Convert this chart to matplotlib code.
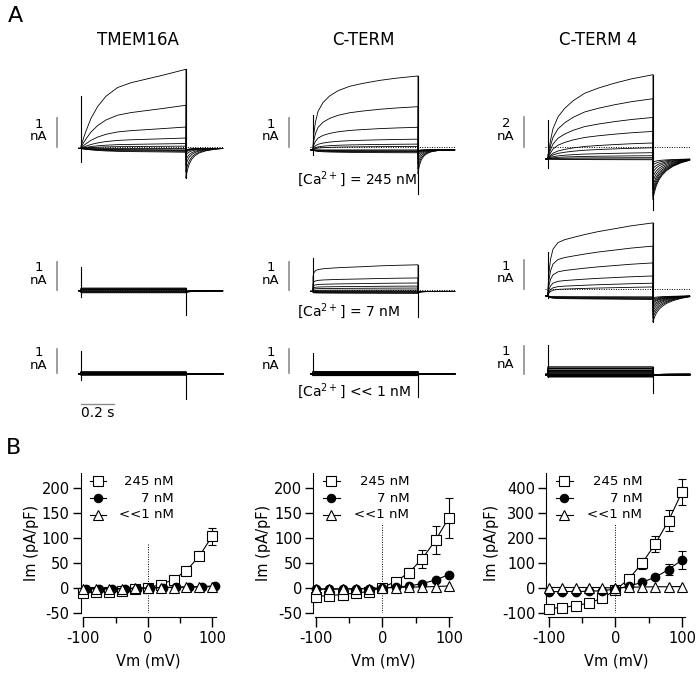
import numpy as np
import matplotlib.pyplot as plt

W, H = 700, 675
plt.rcParams['font.family'] = ['DejaVu Sans']
plt.rcParams['mathtext.default'] = 'regular'
plt.rcParams['axes.unicode_minus'] = False

# ---------------- panel A: current traces ----------------
VSTEP = [-100, -80, -60, -40, -20, 0, 20, 40, 60, 80, 100]   # mV, one trace each
PULSE = 0.63                                                 # s
T_ON = [0, 0.005, 0.015, 0.03, 0.06, 0.1, 0.15, 0.22, 0.3, 0.4, 0.5, 0.63]
T_TAIL = [0, 0.004, 0.01, 0.02, 0.035, 0.055, 0.08, 0.12, 0.17, 0.22]
# normalised tail decay
TAIL_TMEM = [1.0, 0.85, 0.7, 0.52, 0.36, 0.24, 0.15, 0.08, 0.03, 0.0]
TAIL_CT = [1.0, 0.8, 0.62, 0.42, 0.26, 0.15, 0.08, 0.03, 0.01, 0.0]
TAIL_CT4 = [1.0, 0.9, 0.8, 0.66, 0.52, 0.4, 0.29, 0.18, 0.09, 0.03]

SHAPE_TMEM = [0.03, 0.06, 0.13, 0.22, 0.38, 0.53, 0.66, 0.77, 0.83, 0.88, 0.93, 1.0]
SHAPE_CT_HI = [0.05, 0.22, 0.38, 0.52, 0.64, 0.73, 0.80, 0.86, 0.90, 0.94, 0.97, 1.0]
SHAPE_CT4_HI = [0.05, 0.1, 0.22, 0.36, 0.5, 0.6, 0.69, 0.78, 0.84, 0.9, 0.95, 1.0]
SHAPE_CT_MID = [0.55, 0.7, 0.78, 0.82, 0.85, 0.87, 0.89, 0.91, 0.93, 0.96, 0.98, 1.0]
SHAPE_CT4_MID = [0.1, 0.3, 0.5, 0.64, 0.73, 0.77, 0.8, 0.84, 0.88, 0.92, 0.96, 1.0]
SHAPE_FLAT = [1.0, 1.0, 1.0, 1.0, 1.0, 1.0, 1.0, 1.0, 1.0, 1.0, 1.0, 1.0]

# end-of-pulse current (nA) per step, tail peak (nA)
TMEM_245_END = [-0.18, -0.15, -0.12, -0.1, -0.05, 0.03, 0.12, 0.31, 0.69, 1.44, 2.68]
TMEM_245_TAIL = [-0.1, -0.1, -0.1, -0.12, -0.14, -0.18, -0.28, -0.45, -0.62, -0.86, -1.07]
CT_245_END = [-0.2, -0.17, -0.15, -0.13, -0.1, 0.02, 0.1, 0.27, 0.68, 1.39, 2.45]
CT_245_TAIL = [-0.12, -0.12, -0.13, -0.15, -0.18, -0.22, -0.3, -0.42, -0.58, -0.75, -0.92]
CT4_245_END = [-0.85, -0.8, -0.71, -0.58, -0.38, -0.05, 0.27, 1.04, 1.97, 3.22, 4.82]
CT4_245_TAIL = [-1.0, -1.2, -1.45, -1.7, -2.0, -2.3, -2.6, -2.85, -3.1, -3.3, -3.5]

TMEM_7_END = [-0.1, -0.08, -0.07, -0.05, -0.03, 0.0, 0.01, 0.02, 0.03, 0.05, 0.07]
TMEM_7_TAIL = [-0.05, -0.05, -0.05, -0.05, -0.05, -0.05, -0.06, -0.06, -0.07, -0.08, -0.1]
CT_7_END = [-0.12, -0.1, -0.08, -0.06, -0.04, 0.0, 0.07, 0.14, 0.25, 0.43, 0.9]
CT_7_TAIL = [-0.06, -0.06, -0.06, -0.06, -0.06, -0.06, -0.07, -0.07, -0.08, -0.09, -0.1]
CT4_7_END = [-0.36, -0.34, -0.32, -0.3, -0.27, 0.07, 0.2, 0.45, 0.9, 1.48, 2.28]
CT4_7_TAIL = [-0.3, -0.35, -0.4, -0.45, -0.5, -0.58, -0.66, -0.76, -0.88, -1.0, -1.14]

TMEM_1_END = [-0.08, -0.07, -0.06, -0.05, -0.04, -0.02, 0.0, 0.01, 0.02, 0.03, 0.04]
TMEM_1_TAIL = [-0.04, -0.04, -0.04, -0.04, -0.04, -0.04, -0.04, -0.04, -0.04, -0.04, -0.04]
CT_1_END = [-0.1, -0.09, -0.08, -0.07, -0.05, -0.03, 0.0, 0.02, 0.03, 0.04, 0.05]
CT_1_TAIL = [-0.05, -0.05, -0.05, -0.05, -0.05, -0.05, -0.05, -0.05, -0.05, -0.05, -0.05]
CT4_1_END = [-0.1, -0.08, -0.06, -0.04, -0.02, 0.0, 0.04, 0.08, 0.13, 0.19, 0.25]
CT4_1_TAIL = [-0.03, -0.03, -0.03, -0.03, -0.03, -0.03, -0.03, -0.03, -0.03, -0.03, -0.03]

# rows: 245 nM, 7 nM, <<1 nM ; columns: TMEM16A, C-TERM, C-TERM 4
HOLD = [[-0.05, -0.1, -0.8], [-0.03, -0.05, -0.24], [-0.03, -0.03, -0.02]]
SPIKE_ON = [[(1.76, -0.52), (1.1, -0.28), (1.8, -1.4)],
            [(0.82, -0.25), (1.14, -0.07), (1.28, -0.3)],
            [(0.92, -0.3), (0.83, -0.1), (1.04, -0.1)]]
SPIKE_OFF = [[-1.07, -1.62, -4.2], [-0.9, -0.96, -1.14], [-1.1, -1.0, -0.68]]
BAR_NA = [[1, 1, 2], [1, 1, 1], [1, 1, 1]]
TITLES = ['TMEM16A', 'C-TERM', 'C-TERM 4']
CA_LABELS = ['[Ca$^{2+}$] = 245 nM', '[Ca$^{2+}$] = 7 nM', '[Ca$^{2+}$] << 1 nM']

ENDS = [[TMEM_245_END, CT_245_END, CT4_245_END],
        [TMEM_7_END, CT_7_END, CT4_7_END],
        [TMEM_1_END, CT_1_END, CT4_1_END]]
TAILS = [[TMEM_245_TAIL, CT_245_TAIL, CT4_245_TAIL],
         [TMEM_7_TAIL, CT_7_TAIL, CT4_7_TAIL],
         [TMEM_1_TAIL, CT_1_TAIL, CT4_1_TAIL]]
SHAPES = [[SHAPE_TMEM, SHAPE_CT_HI, SHAPE_CT4_HI],
          [SHAPE_FLAT, SHAPE_CT_MID, SHAPE_CT4_MID],
          [SHAPE_FLAT, SHAPE_FLAT, SHAPE_FLAT]]
TAIL_SHAPES = [TAIL_TMEM, TAIL_CT, TAIL_CT4]

# ---------------- panel B: I-V curves ----------------
VM = [-100, -80, -60, -40, -20, 0, 20, 40, 60, 80, 100]
TMEM_IV_245 = [-9, -8, -7, -5, -2, 0, 7, 17, 35, 64, 104]
TMEM_IV_245_ERR = [0, 0, 0, 0, 0, 0, 0, 2, 3, 8, 17]
TMEM_IV_7 = [-2, -2, -2, -2, -1, 0, 1, 2, 2, 3, 4]
TMEM_IV_7_ERR = [0, 0, 0, 0, 0, 0, 0, 0, 0, 0, 0]
TMEM_IV_1 = [-1, -1, -1, -1, 0, 0, 1, 1, 2, 2, 3]
CT_IV_245 = [-17, -15, -13, -10, -7, 1, 13, 31, 59, 96, 141]
CT_IV_245_ERR = [0, 0, 0, 0, 0, 0, 0, 10, 18, 28, 40]
CT_IV_7 = [-2, -2, -2, -2, -1, 0, 2, 4, 9, 16, 27]
CT_IV_7_ERR = [0, 0, 0, 0, 0, 0, 0, 0, 0, 2, 3]
CT_IV_1 = [-2, -2, -2, -1, -1, 0, 1, 2, 2, 3, 4]
CT4_IV_245 = [-82, -78, -71, -60, -41, -8, 36, 99, 177, 270, 384]
CT4_IV_245_ERR = [0, 0, 0, 0, 0, 0, 0, 22, 33, 41, 53]
CT4_IV_7 = [-15, -14, -14, -13, -11, -4, 7, 23, 43, 74, 112]
CT4_IV_7_ERR = [0, 0, 0, 0, 0, 0, 0, 0, 8, 23, 37]
CT4_IV_1 = [2, 2, 2, 2, 2, 0, 3, 4, 5, 5, 6]
IV_LABELS = ['245 nM', '7 nM', '<<1 nM']

fig = plt.figure(figsize=(W / 100, H / 100), dpi=100)


def px_axes(left, top, width, height):
    return fig.add_axes([left / W, 1 - (top + height) / H, width / W, height / H])


def px_text(x, y, s, **kw):
    fig.text(x / W, 1 - y / H, s, **kw)


# layout of the trace grid (pixels)
PX_PER_S = 105 / PULSE
COL_X0 = [81, 313, 548]
ROW_ZERO = [[147, 147, 147], [290, 290, 289], [373, 373, 374]]
ROW_PPN = [[29, 29, 15], [28, 28, 29], [24, 24, 28]]
ROW_LW = [0.6, 0.6, 1.0]
XLO, XHI = -0.32, 0.9
ABOVE, BELOW = 95, 65

t_tail = PULSE + np.array(T_TAIL)
for r in range(3):
    for c in range(3):
        z, p = ROW_ZERO[r][c], ROW_PPN[r][c]
        ax = px_axes(COL_X0[c] + XLO * PX_PER_S, z - ABOVE,
                     (XHI - XLO) * PX_PER_S, ABOVE + BELOW)
        ax.set_xlim(XLO, XHI)
        ax.set_ylim(-BELOW / p, ABOVE / p)
        ax.axis('off')
        hold = HOLD[r][c]
        shape = np.array(SHAPES[r][c])
        frac = np.array(TAIL_SHAPES[c])
        ends = ENDS[r][c]
        ax.plot([-0.02, t_tail[-1]], [0, 0], ls=(0, (1, 1.5)), color='black', lw=0.7)
        for e, tl in zip(ends, TAILS[r][c]):
            t = np.concatenate([[-0.012, 0], T_ON, t_tail])
            y = np.concatenate([[hold, hold], hold + (e - hold) * shape,
                                hold + (tl - hold) * frac])
            ax.plot(t, y, color='black', lw=ROW_LW[r], clip_on=False)
        top, bot = SPIKE_ON[r][c]
        ax.plot([0, 0], [bot, top], color='black', lw=0.8, clip_on=False)
        ax.plot([PULSE, PULSE], [SPIKE_OFF[r][c], max(ends)], color='black', lw=0.8,
                clip_on=False)
        # vertical scale bar
        bar = BAR_NA[r][c]
        bx = -24 / PX_PER_S
        ax.plot([bx, bx], [0, bar], color='#8c8c8c', lw=1.2, clip_on=False)
        ax.text(-42 / PX_PER_S, bar / 2 + 2 / p, f'{bar}\nnA', ha='center', va='center',
                fontsize=9.5, linespacing=0.95)
        if r == 2 and c == 0:
            yb = -31 / p
            ax.plot([0, 0.2], [yb, yb], color='#8c8c8c', lw=1.0, clip_on=False)
            ax.text(0.1, yb - 2 / p, '0.2 s', ha='center', va='top', fontsize=10)

for c, title in enumerate(TITLES):
    px_text([138, 363, 598][c], 40, title, ha='center', va='center', fontsize=12)
for r, lab in enumerate(CA_LABELS):
    px_text(297, [179, 311, 391][r], lab, ha='left', va='center', fontsize=10)

px_text(15, 16, 'A', ha='center', va='center', fontsize=16)
px_text(14, 448, 'B', ha='center', va='center', fontsize=16)

# ---------------- I-V axes ----------------
IV_SETS = [
    (TMEM_IV_245, TMEM_IV_245_ERR, TMEM_IV_7, TMEM_IV_7_ERR, TMEM_IV_1),
    (CT_IV_245, CT_IV_245_ERR, CT_IV_7, CT_IV_7_ERR, CT_IV_1),
    (CT4_IV_245, CT4_IV_245_ERR, CT4_IV_7, CT4_IV_7_ERR, CT4_IV_1),
]
IV_YLIM = [(-50, 230), (-50, 230), (-100, 460)]
IV_YTICKS = [[-50, 0, 50, 100, 150, 200], [-50, 0, 50, 100, 150, 200],
             [-100, 0, 100, 200, 300, 400]]
ZERO_LINE_TOP = [90, 130, 255]
SHIFT_7 = [4, 0, 0]      # 7 nM points nudged right in the first panel
B_LEFT = [80.7, 313.3, 546.3]
B_WIDTH = [134.8, 139, 139]

vm = np.array(VM)
for i, (y245, e245, y7, e7, y1) in enumerate(IV_SETS):
    ax = px_axes(B_LEFT[i], 473, B_WIDTH[i], 140)
    ax.set_xlim(-104, 105)
    ax.set_ylim(*IV_YLIM[i])
    ax.plot([0, 0], [IV_YLIM[i][0], ZERO_LINE_TOP[i]], ls=(0, (1, 1.5)), color='black',
            lw=0.7)
    for art in (
        ax.errorbar(vm, y245, yerr=e245, color='black', lw=0.8, marker='s', ms=6.5,
                    mfc='white', mec='black', mew=0.8, capsize=3, elinewidth=0.8,
                    capthick=0.8, zorder=3),
        ax.errorbar(vm + SHIFT_7[i], y7, yerr=e7, color='black', lw=0.8, marker='o',
                    ms=6, mfc='black', mec='black', capsize=3, elinewidth=0.8,
                    capthick=0.8, zorder=4),
    ):
        for child in art.get_children():
            child.set_clip_on(False)
    ax.plot(vm, y1, color='black', lw=0.8, marker='^', ms=7, mfc='white', mec='black',
            mew=0.8, zorder=5, clip_on=False)
    # legend drawn by hand so the labels are right aligned
    styles = [dict(marker='s', ms=6.5, mfc='white'), dict(marker='o', ms=6, mfc='black'),
              dict(marker='^', ms=7, mfc='white')]
    for k, (lab, st) in enumerate(zip(IV_LABELS, styles)):
        yy = [0.94, 0.82, 0.70][k]
        ax.plot([0.07, 0.13, 0.19], [yy, yy, yy], transform=ax.transAxes, color='black',
                lw=0.8, mec='black', mew=0.8, markevery=[1], clip_on=False, **st)
        ax.text(0.69, yy, lab, transform=ax.transAxes, ha='right', va='center',
                fontsize=9.5)
    for s in ('top', 'right'):
        ax.spines[s].set_visible(False)
    ax.spines['left'].set_bounds(*IV_YLIM[i])
    ax.spines['bottom'].set_position(('outward', 3))
    ax.spines['bottom'].set_bounds(-101, 105)
    ax.set_yticks(IV_YTICKS[i])
    ax.set_xticks([-100, 0, 100])
    ax.set_xticks([-50, 50], minor=True)
    ax.tick_params(axis='y', length=6, width=1, labelsize=10.5, pad=2)
    ax.tick_params(axis='x', which='major', length=7, width=1, labelsize=10.5, pad=3)
    ax.tick_params(axis='x', which='minor', length=4, width=1)
    ax.set_xlabel('Vm (mV)', fontsize=10.5, labelpad=5)
    ax.set_ylabel('Im (pA/pF)', fontsize=10.5, labelpad=2)

fig.savefig('out.png', dpi=100)
